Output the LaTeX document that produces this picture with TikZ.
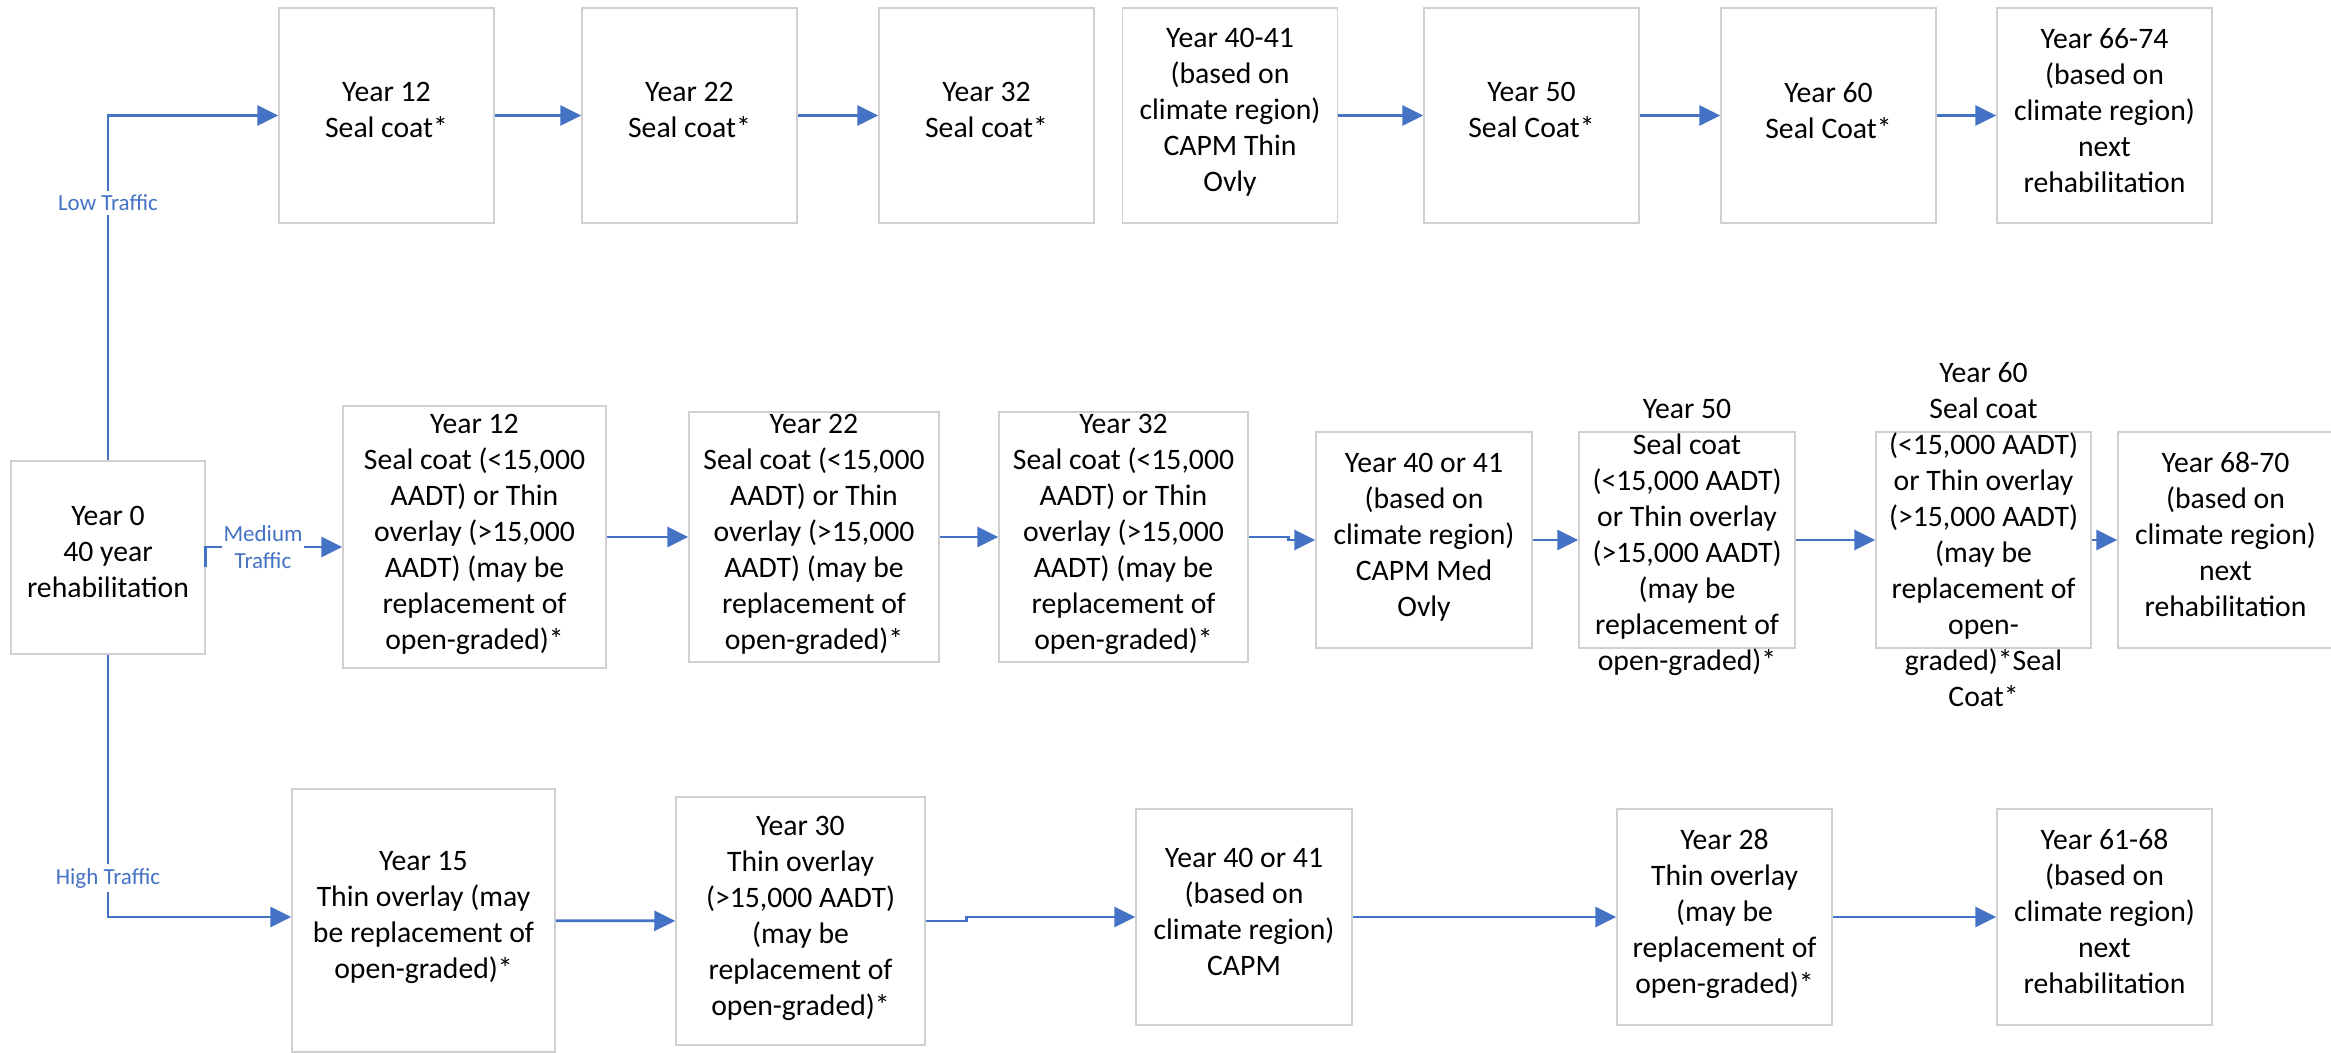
\documentclass[tikz,border=0pt]{standalone}
\usepackage{fontspec}
\setmainfont{Carlito}
\usetikzlibrary{arrows.meta,calc}
\definecolor{flowblue}{HTML}{4472C4}
\definecolor{edgegray}{HTML}{D0D0D0}

\tikzset{
  stage/.style={draw=edgegray, line width=1.5pt, fill=white, align=center,
    inner sep=0pt, text=black, font=\fontsize{29.7}{36}\selectfont,
    execute at begin node=\strut, execute at end node=\strut},
  sq/.style={stage, minimum width=215pt, minimum height=215pt},
  words/.style={align=center, inner sep=0pt, text=black,
    font=\fontsize{29.7}{36}\selectfont,
    execute at begin node=\strut, execute at end node=\strut},
  flow/.style={draw=flowblue, line width=2.8pt, line join=miter,
    -{Triangle[length=21pt,width=20pt]}},
  route/.style={fill=white, text=flowblue, align=center, inner xsep=2pt,
    inner ysep=4pt, font=\fontsize{23}{27.5}\selectfont}
}

\begin{document}
\begin{tikzpicture}[x=1pt,y=-1pt]
\fill[white] (0,0) rectangle (2331,1052);
\useasboundingbox (0,0) rectangle (2331,1052);

% starting point
\node[stage, minimum width=194pt, minimum height=193pt] (Y0) at (108,557.5)
  {Year 0\\40 year\\rehabilitation};

% low traffic sequence
\node[sq] (T1) at (386.5,115.5) {Year 12\\Seal coat*};
\node[sq] (T2) at (689.5,115.5) {Year 22\\Seal coat*};
\node[sq] (T3) at (986.5,115.5) {Year 32\\Seal coat*};
\node[sq] (T4) at (1230,115.5) {Year 40-41\\(based on\\climate region)\\CAPM Thin\\Ovly};
\node[sq] (T5) at (1531.5,115.5) {Year 50\\Seal Coat*};
\node[sq] (T6) at (1828.5,115.5) {Year 60\\Seal Coat*};
\node[sq] (T7) at (2104.5,115.5) {Year 66-74\\(based on\\climate region)\\next\\rehabilitation};

% medium traffic sequence
\node[stage, minimum width=263pt, minimum height=262pt] (M1) at (474.5,537)
  {Year 12\\Seal coat (<15,000\\AADT) or Thin\\overlay (>15,000\\AADT) (may be\\replacement of\\open-graded)*};
\node[stage, minimum width=250pt, minimum height=250pt] (M2) at (814,537)
  {Year 22\\Seal coat (<15,000\\AADT) or Thin\\overlay (>15,000\\AADT) (may be\\replacement of\\open-graded)*};
\node[stage, minimum width=249pt, minimum height=250pt] (M3) at (1123.5,537)
  {Year 32\\Seal coat (<15,000\\AADT) or Thin\\overlay (>15,000\\AADT) (may be\\replacement of\\open-graded)*};
\node[sq, minimum width=216pt, minimum height=216pt] (M4) at (1424,540)
  {Year 40 or 41\\(based on\\climate region)\\CAPM Med\\Ovly};
\node[sq, minimum width=216pt, minimum height=216pt] (M5) at (1687,540) {};
\node[words] (M5t) at (1687,540)
  {Year 50\\Seal coat\\(<15,000 AADT)\\or Thin overlay\\(>15,000 AADT)\\(may be\\replacement of\\open-graded)*};
\node[sq, minimum height=216pt] (M6) at (1983.5,540) {};
\node[words] (M6t) at (1983.5,540)
  {Year 60\\Seal coat\\(<15,000 AADT)\\or Thin overlay\\(>15,000 AADT)\\(may be\\replacement of\\open-\\graded)*Seal\\Coat*};
\node[sq, minimum height=216pt] (M7) at (2225.5,540)
  {Year 68-70\\(based on\\climate region)\\next\\rehabilitation};

% high traffic sequence
\node[stage, minimum width=263pt, minimum height=263pt] (H1) at (423.5,920.5)
  {Year 15\\Thin overlay (may\\be replacement of\\open-graded)*};
\node[stage, minimum width=249pt, minimum height=248pt] (H2) at (800.5,921)
  {Year 30\\Thin overlay\\(>15,000 AADT)\\(may be\\replacement of\\open-graded)*};
\node[sq, minimum width=216pt, minimum height=216pt] (H3) at (1244,917)
  {Year 40 or 41\\(based on\\climate region)\\CAPM};
\node[sq, minimum height=216pt] (H4) at (1724.5,917)
  {Year 28\\Thin overlay\\(may be\\replacement of\\open-graded)*};
\node[sq, minimum height=216pt] (H5) at (2104.5,917)
  {Year 61-68\\(based on\\climate region)\\next\\rehabilitation};

% branches out of the starting point
\draw[flow] (Y0.north) |- (T1.west);
\draw[flow] (Y0.south) |- ($(H1.west)+(0,-3.5)$);
\draw[flow] ($(Y0.east)+(0,9.5)$) -- ++(0,-20) -- ($(M1.west)+(0,10)$);

\node[route] (lowlbl) at (108,203) {Low Traffic};
\node[route] (medlbl) at (263,547) {Medium\\Traffic};
\node[route] (highlbl) at (108,878) {High Traffic};

% low traffic links
\draw[flow] (T1) -- (T2);
\draw[flow] (T2) -- (T3);
\draw[flow] (T4) -- (T5);
\draw[flow] (T5) -- (T6);
\draw[flow] (T6) -- (T7);

% medium traffic links
\draw[flow] (M1) -- (M2);
\draw[flow] (M2) -- (M3);
\draw[flow] (M3.east) -- ++(40,0) |- (M4.west);
\draw[flow] (M4) -- (M5);
\draw[flow] (M5) -- (M6);
\draw[flow] (M6) -- (M7);

% high traffic links
\draw[flow] (H1) -- (H2);
\draw[flow] (H2.east) -- ++(41,0) |- (H3.west);
\draw[flow] (H3) -- (H4);
\draw[flow] (H4) -- (H5);
\end{tikzpicture}
\end{document}
